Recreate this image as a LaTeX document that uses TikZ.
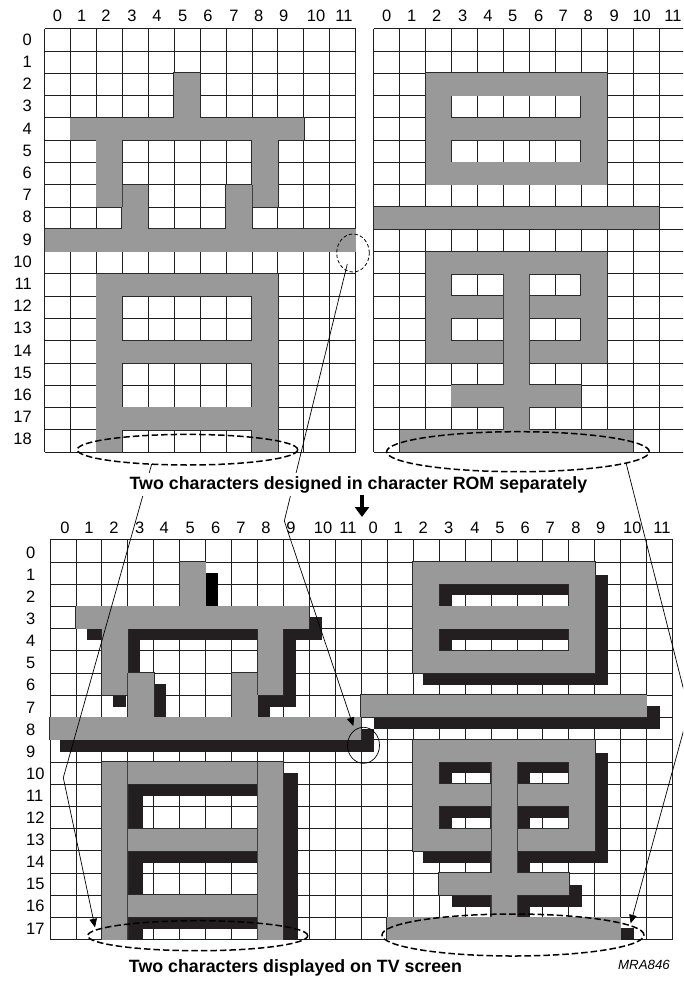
\documentclass[tikz,border=0pt]{standalone}
\usepackage{fontspec}
\setmainfont{Liberation Sans}
\usetikzlibrary{shapes.geometric,arrows.meta}
\definecolor{gryfill}{HTML}{999999}
\definecolor{blk}{HTML}{231F20}
\definecolor{edgec}{HTML}{2A2A2A}
\newcommand{\tleftcell}[4]{\path[cellpass] ({44.5+#1*25.93},{28.7+#2*22.28}) rectangle ({44.5+#3*25.93},{28.7+#4*22.28});}
\newcommand{\trightcell}[4]{\path[cellpass] ({373.7+#1*25.93},{28.7+#2*22.28}) rectangle ({373.7+#3*25.93},{28.7+#4*22.28});}
\newcommand{\bcell}[4]{\path[cellpass] ({50+#1*25.94},{539.7+#2*22.22}) rectangle ({50+#3*25.94},{539.7+#4*22.22});}
\newcommand{\shd}[4]{\fill[blk] (#1,#2) rectangle (#3,#4);}
\newcommand{\allgreycells}{%
% top left character
\tleftcell{5}{2}{6}{4}
\tleftcell{1}{4}{10}{5}
\tleftcell{2}{5}{3}{8}
\tleftcell{8}{5}{9}{8}
\tleftcell{3}{7}{4}{9}
\tleftcell{7}{7}{8}{9}
\tleftcell{0}{9}{12}{10}
\tleftcell{2}{11}{3}{19}
\tleftcell{8}{11}{9}{19}
\tleftcell{3}{11}{8}{12}
\tleftcell{3}{14}{8}{15}
\tleftcell{3}{17}{8}{18}
% top right character
\trightcell{2}{2}{9}{3}
\trightcell{2}{3}{3}{4}
\trightcell{8}{3}{9}{4}
\trightcell{2}{4}{9}{5}
\trightcell{2}{5}{3}{6}
\trightcell{8}{5}{9}{6}
\trightcell{2}{6}{9}{7}
\trightcell{0}{8}{11}{9}
\trightcell{2}{10}{9}{11}
\trightcell{2}{11}{3}{12}
\trightcell{8}{11}{9}{12}
\trightcell{2}{12}{9}{13}
\trightcell{2}{13}{3}{14}
\trightcell{8}{13}{9}{14}
\trightcell{2}{14}{9}{15}
\trightcell{5}{10}{6}{18}
\trightcell{3}{16}{8}{17}
\trightcell{1}{18}{10}{19}
% bottom left character
\bcell{5}{1}{6}{3}
\bcell{1}{3}{10}{4}
\bcell{2}{4}{3}{7}
\bcell{8}{4}{9}{7}
\bcell{3}{6}{4}{8}
\bcell{7}{6}{8}{8}
\bcell{0}{8}{12}{9}
\bcell{2}{10}{3}{18}
\bcell{8}{10}{9}{18}
\bcell{3}{10}{8}{11}
\bcell{3}{13}{8}{14}
\bcell{3}{16}{8}{17}
% bottom right character (columns offset by 12)
\bcell{14}{1}{21}{2}
\bcell{14}{2}{15}{3}
\bcell{20}{2}{21}{3}
\bcell{14}{3}{21}{4}
\bcell{14}{4}{15}{5}
\bcell{20}{4}{21}{5}
\bcell{14}{5}{21}{6}
\bcell{12}{7}{23}{8}
\bcell{14}{9}{21}{10}
\bcell{14}{10}{15}{11}
\bcell{20}{10}{21}{11}
\bcell{14}{11}{21}{12}
\bcell{14}{12}{15}{13}
\bcell{20}{12}{21}{13}
\bcell{14}{13}{21}{14}
\bcell{17}{9}{18}{17}
\bcell{15}{15}{20}{16}
\bcell{13}{17}{22}{18}
}
\tikzset{
  gridline/.style={line width=0.8pt,draw=black!88},
  cellpass/.style={},
  innerseam/.style={draw=edgec!80!gryfill,line width=0.7pt},
  numlabel/.style={font=\fontsize{16.5}{16.5}\selectfont,inner sep=0pt,text height=12pt,text depth=0pt},
  caption/.style={font=\fontsize{17.8}{17.8}\selectfont\bfseries,fill=white,inner sep=0pt,minimum height=23pt,text height=12.8pt,text depth=3.6pt},
  dashell/.style={ellipse,draw=black,line width=1.5pt,dash pattern=on 6.5pt off 3pt,inner sep=0pt,outer sep=0pt},
  thindash/.style={ellipse,draw=black,line width=0.8pt,dash pattern=on 3.5pt off 2.2pt,inner sep=0pt,outer sep=0pt},
  thincirc/.style={ellipse,draw=black,line width=0.7pt,inner sep=0pt,outer sep=0pt},
  leadarrow/.style={draw=black,line width=0.7pt,-{Triangle[length=8.5pt,width=7.5pt]}},
}
\begin{document}
\begin{tikzpicture}[x=1pt,y=-1pt]
\useasboundingbox (0,0) rectangle (683,982);
\clip (0,0) rectangle (683,982);
\fill[white] (0,0) rectangle (683,982);
% grids
\foreach \i in {0,...,12} {
  \draw[gridline] ({44.5+\i*25.93},28.7) -- ({44.5+\i*25.93},452);
  \draw[gridline] ({373.7+\i*25.93},28.7) -- ({373.7+\i*25.93},452);
}
\foreach \j in {0,...,19} {
  \draw[gridline] (44.5,{28.7+\j*22.28}) -- (355.7,{28.7+\j*22.28});
  \draw[gridline] (373.7,{28.7+\j*22.28}) -- (684.9,{28.7+\j*22.28});
}
\foreach \i in {0,...,24} \draw[gridline] ({50+\i*25.94},539.7) -- ({50+\i*25.94},939.7);
\foreach \j in {0,...,18} \draw[gridline] (50,{539.7+\j*22.22}) -- (672.6,{539.7+\j*22.22});
% shadows, bottom left
\fill[black] (204.3,573) rectangle (218,606);
\shd{87}{628}{322}{639.7}
\shd{308}{617}{322}{628}
\shd{126.3}{628}{139.7}{673}
\shd{283}{639}{296.3}{706.7}
\shd{257}{695.7}{270}{717.7}
\shd{257}{695.7}{296.3}{706.7}
\shd{113}{695.7}{126.3}{706.7}
\shd{152.3}{684}{165.7}{717.7}
\shd{60}{739.5}{373.7}{751.7}
\shd{360.3}{729}{373.7}{740}
\shd{283}{772.7}{298.3}{939.7}
\shd{126.3}{783.7}{257}{795.7}
\shd{126.3}{795.7}{143}{829}
\shd{126.3}{850.7}{257}{862.7}
\shd{126.3}{862.7}{143}{895}
\shd{126.3}{917}{257}{928.7}
\shd{126.3}{928.7}{143}{939.7}
% shadows, bottom right
\shd{373.7}{717.3}{660}{728.7}
\shd{646.3}{706.3}{660}{717.7}
\shd{594.3}{575}{607.7}{684.5}
\shd{422.7}{672.7}{594.3}{684.5}
\shd{438.3}{583.3}{568.7}{594.7}
\shd{438.3}{594.7}{452}{606}
\shd{438.3}{628}{568.7}{639.7}
\shd{438.3}{639.7}{452}{651}
\shd{594.3}{752.7}{607.7}{862.7}
\shd{438.3}{761}{568.7}{772.7}
\shd{438.3}{772.7}{452}{784}
\shd{515.7}{772.7}{529.7}{784}
\shd{438.3}{806}{568.7}{817.7}
\shd{438.3}{817.7}{452}{829}
\shd{515.7}{817.7}{529.7}{829}
\shd{422.7}{850.7}{594.3}{862.7}
\shd{515.7}{862.7}{529.7}{873.7}
\shd{451.7}{895}{581.7}{906.7}
\shd{568.3}{884.7}{581.7}{895}
\shd{515.7}{906.7}{529.7}{917}
\shd{620}{928.3}{634}{939.7}
% grey cells: outline pass, then fill pass, so that the union has one dark edge
\begin{scope}[cellpass/.style={draw=edgec,line width=1.6pt}]
\allgreycells
\end{scope}
\begin{scope}[cellpass/.style={fill=gryfill}]
\allgreycells
\end{scope}
% seams between pieces of the characters
\foreach \c in {5,6} {
  \draw[innerseam] ({373.7+\c*25.93},{28.7+11*22.28}) -- ({373.7+\c*25.93},{28.7+16*22.28});
  \draw[innerseam] ({373.7+\c*25.93},{28.7+17*22.28}) -- ({373.7+\c*25.93},{28.7+18*22.28});
}
\foreach \c in {17,18} {
  \draw[innerseam] ({50+\c*25.94},{539.7+10*22.22}) -- ({50+\c*25.94},{539.7+15*22.22});
  \draw[innerseam] ({50+\c*25.94},{539.7+16*22.22}) -- ({50+\c*25.94},{539.7+17*22.22});
}
\foreach \c in {3,8} {
  \draw[innerseam] ({50+\c*25.94},{539.7+10*22.22}) -- ({50+\c*25.94},{539.7+18*22.22});
  \draw[innerseam] ({44.5+\c*25.93},{28.7+7*22.28}) -- ({44.5+\c*25.93},{28.7+8*22.28});
  \draw[innerseam] ({50+\c*25.94},{539.7+6*22.22}) -- ({50+\c*25.94},{539.7+7*22.22});
}
% number labels
\foreach \x [count=\n from 0] in {57.5,81.7,106,132,157,182.7,208,234,258.7,283.7,316,344}
  \node[numlabel] (tlc\n) at (\x,16) {\n};
\foreach \x [count=\n from 0] in {386.7,411.7,436.7,462.7,488,512.7,538.7,563.3,588.3,614.3,641.7,673}
  \node[numlabel] (trc\n) at (\x,16) {\n};
\foreach \x [count=\n from 0] in {65,89,114,139.7,164.3,190.3,215.7,241,266,291,323,348,373.3,398.3,423.3,448.7,475,500,525.3,550.3,576,600.7,632.3,662} {
  \pgfmathtruncatemacro{\lab}{mod(\n,12)}
  \node[numlabel] (bc\n) at (\x,527.3) {\lab};
}
\foreach \n in {0,...,18}
  \node[numlabel,anchor=east] (tr\n) at ({32},{39.3+\n*22.2}) {\n};
\foreach \n in {0,...,17}
  \node[numlabel,anchor=west] (br\n) at ({26},{552.3+\n*22.1}) {\n};
% ellipses
\node[dashell,minimum width=220.4pt,minimum height=30.6pt] (e1) at (187.5,449.7) {};
\node[dashell,minimum width=262.6pt,minimum height=40pt] (e2) at (518,451.7) {};
\node[thindash,minimum width=32.6pt,minimum height=38pt] (e3) at (353,253) {};
\node[thincirc,minimum width=32pt,minimum height=36pt] (e4) at (363.5,745.3) {};
\node[dashell,minimum width=220pt,minimum height=30pt] (e5) at (197.7,935.7) {};
\node[dashell,minimum width=262pt,minimum height=42pt] (e6) at (513,935) {};
% connectors
\coordinate (bendA) at (63.3,777.7);
\coordinate (tipA) at (95,927.3);
\coordinate (startB) at (347.3,264);
\coordinate (bendB) at (284.3,521);
\coordinate (tipB) at (353.3,726);
\coordinate (bendC) at (689,710.7);
\coordinate (tipC) at (630.7,923.3);
\coordinate (arrTop) at (362,495);
\coordinate (arrTip) at (362,517);
\draw[leadarrow] (e1.202) -- (bendA) -- (tipA);
\draw[leadarrow] (startB) -- (bendB) -- (tipB);
\draw[leadarrow] (e2.354) -- (bendC) -- (tipC);
% captions
\node[caption] (cap1) at (358.5,484.5) {Two characters designed in character ROM separately};
\node[caption,minimum height=0pt] (cap2) at (295.5,968) {Two characters displayed on TV screen};
\node[font=\fontsize{13.3}{13.3}\selectfont\itshape,inner sep=0pt] (mra) at (644,965.3) {MRA846};
\draw[line width=3.5pt,draw=black,-{Triangle[length=10pt,width=14pt]}] (arrTop) -- (arrTip);
\end{tikzpicture}
\end{document}
